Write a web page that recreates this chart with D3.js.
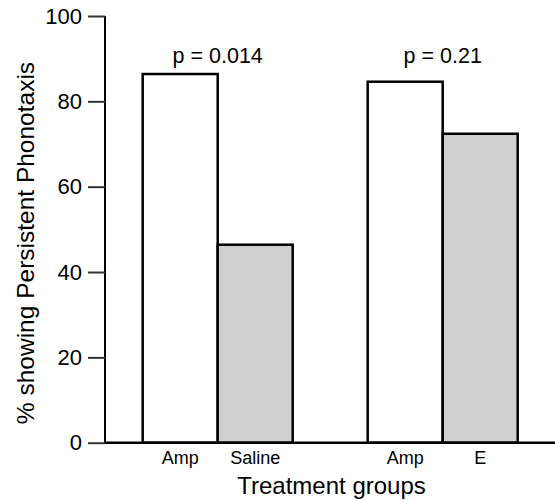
<!DOCTYPE html>
<html>
<head>
<meta charset="utf-8">
<script src="https://cdn.jsdelivr.net/npm/d3@7"></script>
<style>
  body { margin: 0; background: #fff; }
  text { font-family: "Liberation Sans", Arial, sans-serif; fill: #000; }
</style>
</head>
<body>
<div id="chart"></div>
<script>
// values
const slots = ["g1-Amp", "g1-Saline", "gap", "g2-Amp", "g2-E"];
const barSlots = ["g1-Amp", "g1-Saline", "g2-Amp", "g2-E"];
const barLabels = ["Amp", "Saline", "Amp", "E"];
const values = [86.4, 46.4, 84.6, 72.4];
const treatment = ["amp", "control", "amp", "control"];
const pLabels = ["p = 0.014", "p = 0.21"];
const pAt = ["g1-Saline", "g2-E"];
const yTicks = [0, 20, 40, 60, 80, 100];

function draw() {
    const width = 555, height = 500;
    const svg = d3.select("#chart").append("svg")
        .attr("width", width)
        .attr("height", height);

    const y = d3.scaleLinear().domain([0, 100]).range([442.7, 16]);
    const x = d3.scaleBand().domain(slots).range([142.7, 517.7]).paddingInner(0);
    const fill = d3.scaleOrdinal().domain(["amp", "control"]).range(["#ffffff", "#d0d0d0"]);

    // bars
    svg.selectAll("rect.bar")
        .data(values)
        .join("rect")
        .attr("class", "bar")
        .attr("x", (d, i) => x(barSlots[i]))
        .attr("y", d => y(d))
        .attr("width", x.bandwidth())
        .attr("height", d => y(0) - y(d))
        .attr("fill", (d, i) => fill(treatment[i]))
        .attr("stroke", "#000")
        .attr("stroke-width", 2.5);

    // y axis
    const yAxis = svg.append("g")
        .attr("transform", "translate(105,0)")
        .call(d3.axisLeft(y).tickValues(yTicks).tickSize(17).tickPadding(6));
    yAxis.select(".domain").attr("stroke", "#000").attr("stroke-width", 2)
        .attr("d", `M0,${y(100)}V${y(0)}`);
    yAxis.selectAll(".tick line").attr("stroke", "#333").attr("stroke-width", 2);
    yAxis.selectAll(".tick text")
        .style("font-family", '"Liberation Sans", Arial, sans-serif')
        .style("font-size", "22px")
        .attr("fill", "#000");

    // x axis baseline
    svg.append("line")
        .attr("x1", 105).attr("x2", width)
        .attr("y1", y(0)).attr("y2", y(0))
        .attr("stroke", "#000").attr("stroke-width", 2.5);

    // category labels
    svg.selectAll("text.cat")
        .data(barLabels)
        .join("text")
        .attr("class", "cat")
        .attr("x", (d, i) => x(barSlots[i]) + x.bandwidth() / 2)
        .attr("y", 464)
        .attr("text-anchor", "middle")
        .style("font-size", "18px")
        .text(d => d);

    // p values
    svg.selectAll("text.pval")
        .data(pLabels)
        .join("text")
        .attr("class", "pval")
        .attr("x", (d, i) => x(pAt[i]))
        .attr("y", 63)
        .attr("text-anchor", "middle")
        .style("font-size", "21.5px")
        .text(d => d);

    // axis titles
    svg.append("text")
        .attr("x", 331.5)
        .attr("y", 494)
        .attr("text-anchor", "middle")
        .style("font-size", "24px")
        .text("Treatment groups");

    svg.append("text")
        .attr("transform", "translate(34,243) rotate(-90)")
        .attr("text-anchor", "middle")
        .style("font-size", "24.5px")
        .text("% showing Persistent Phonotaxis");
}

draw();
</script>
</body>
</html>
